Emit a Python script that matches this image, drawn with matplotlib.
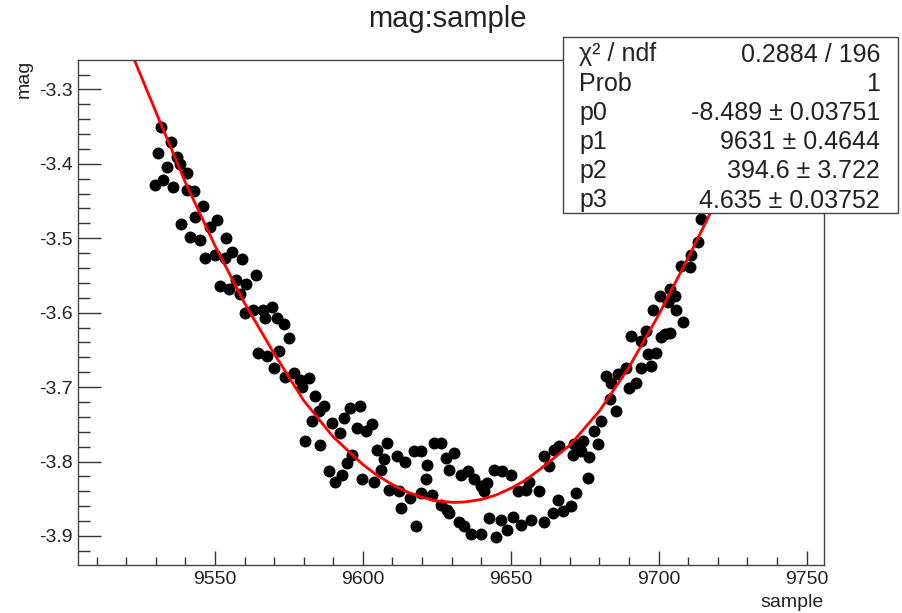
import matplotlib.pyplot as plt
from matplotlib.patches import Rectangle
from matplotlib.ticker import MultipleLocator, FormatStrFormatter

plt.rcParams['font.family'] = ['Liberation Sans', 'DejaVu Sans']
plt.rcParams['axes.unicode_minus'] = False

# points (sample, mag)
sample = [9531.6, 9535.0, 9530.8, 9537.3, 9533.7, 9538.2, 9540.4, 9529.7, 9532.5, 9535.9,
          9540.4, 9542.9, 9545.9, 9543.3, 9538.4, 9550.6, 9548.3, 9541.6, 9544.9, 9553.8,
          9546.7, 9550.0, 9553.4, 9555.7, 9559.1, 9551.7, 9554.9, 9557.2, 9560.5, 9558.5,
          9563.9, 9560.2, 9563.0, 9566.4, 9569.3, 9567.0, 9570.9, 9573.2, 9574.9, 9564.7,
          9567.6, 9571.8, 9569.8, 9573.8, 9576.6, 9578.9, 9581.7, 9579.4, 9583.9, 9586.8,
          9585.1, 9582.8, 9589.6, 9593.5, 9595.8, 9592.4, 9580.5, 9585.6, 9594.7, 9588.5,
          9590.7,
          9599.2, 9598.1, 9600.9, 9603.2, 9596.4, 9593.0, 9604.9, 9608.2, 9607.1, 9606.0,
          9599.8, 9603.7, 9611.6, 9614.4, 9617.3, 9619.5, 9624.0, 9626.3, 9621.8, 9621.2,
          9628.0, 9629.1, 9608.8, 9612.2, 9616.1, 9619.5, 9623.5, 9626.3, 9628.6, 9612.8,
          9617.8,
          9630.8, 9633.1, 9635.4, 9637.6, 9639.9, 9642.1, 9641.0, 9644.4, 9647.2, 9650.0,
          9652.3, 9655.1, 9656.2, 9659.6, 9661.3, 9629.1, 9632.5, 9634.2, 9636.5, 9639.9,
          9642.7, 9645.0, 9646.7, 9648.9, 9650.6, 9653.4, 9656.8, 9661.3,
          9690.7, 9694.1, 9696.4, 9694.1, 9689.0, 9686.2, 9682.2, 9683.9, 9690.1, 9692.4,
          9683.4, 9685.6, 9680.5, 9678.3, 9679.4, 9674.3, 9671.5, 9666.4, 9664.7, 9670.9,
          9673.8, 9676.6, 9663.0, 9676.1, 9672.1, 9665.9, 9670.4, 9667.6, 9664.2,
          9714.4, 9713.3, 9711.1, 9707.7, 9710.5, 9703.7, 9700.3, 9705.4, 9703.2, 9698.1,
          9706.0, 9708.2, 9695.8, 9702.0, 9703.7, 9700.9, 9699.2, 9697.5]
mag = [-3.350, -3.371, -3.386, -3.391, -3.404, -3.400, -3.412, -3.429, -3.422, -3.431,
       -3.435, -3.437, -3.457, -3.472, -3.481, -3.476, -3.485, -3.498, -3.503, -3.499,
       -3.526, -3.522, -3.526, -3.519, -3.528, -3.564, -3.568, -3.556, -3.561, -3.575,
       -3.550, -3.600, -3.597, -3.597, -3.593, -3.607, -3.607, -3.615, -3.634, -3.654,
       -3.658, -3.651, -3.674, -3.686, -3.681, -3.690, -3.688, -3.700, -3.712, -3.726,
       -3.732, -3.746, -3.748, -3.741, -3.728, -3.762, -3.772, -3.778, -3.802, -3.813,
       -3.827,
       -3.726, -3.755, -3.759, -3.750, -3.791, -3.818, -3.784, -3.775, -3.797, -3.811,
       -3.824, -3.827, -3.793, -3.800, -3.786, -3.786, -3.775, -3.775, -3.804, -3.824,
       -3.795, -3.811, -3.838, -3.840, -3.849, -3.842, -3.845, -3.858, -3.865, -3.863,
       -3.887,
       -3.788, -3.818, -3.813, -3.824, -3.833, -3.829, -3.840, -3.811, -3.813, -3.818,
       -3.840, -3.838, -3.827, -3.840, -3.793, -3.869, -3.881, -3.887, -3.898, -3.898,
       -3.876, -3.901, -3.878, -3.892, -3.874, -3.885, -3.878, -3.881,
       -3.631, -3.638, -3.656, -3.674, -3.674, -3.683, -3.685, -3.694, -3.701, -3.694,
       -3.716, -3.732, -3.746, -3.759, -3.777, -3.773, -3.777, -3.779, -3.784, -3.791,
       -3.786, -3.794, -3.806, -3.822, -3.842, -3.851, -3.860, -3.867, -3.869,
       -3.474, -3.505, -3.523, -3.537, -3.539, -3.568, -3.577, -3.577, -3.586, -3.597,
       -3.597, -3.613, -3.624, -3.629, -3.627, -3.633, -3.654, -3.672]

# fit curve
fit_x = [9522.7, 9530, 9540, 9550, 9560, 9570, 9580, 9590, 9600, 9605, 9610, 9615, 9620,
         9625, 9631, 9635, 9640, 9645, 9650, 9655, 9660, 9670, 9680, 9690, 9700, 9710,
         9718, 9725, 9732, 9738]
fit_y = [-3.260, -3.330, -3.425, -3.510, -3.587, -3.655, -3.718, -3.767, -3.804, -3.819,
         -3.831, -3.841, -3.848, -3.853, -3.855, -3.854, -3.851, -3.845, -3.836, -3.825,
         -3.810, -3.778, -3.732, -3.673, -3.603, -3.526, -3.462, -3.396, -3.325, -3.260]

stat_names = ['χ² / ndf', 'Prob', 'p0', 'p1', 'p2', 'p3']
stat_values = ['0.2884 / 196', '1', '-8.489 ± 0.03751', '9631 ± 0.4644',
               '394.6 ± 3.722', '4.635 ± 0.03752']

fig = plt.figure(figsize=(9.02, 6.13), dpi=100)
ax = fig.add_axes([0.0865, 0.0783, 0.827, 0.8238])

ax.plot(sample, mag, 'o', color='black', markersize=8.6, markeredgewidth=0)
ax.plot(fit_x, fit_y, color='red', lw=2.0)

ax.set_xlim(9503.7, 9755.9)
ax.set_ylim(-3.939, -3.2605)

ax.xaxis.set_major_locator(MultipleLocator(50))
ax.xaxis.set_minor_locator(MultipleLocator(10))
ax.xaxis.set_major_formatter(FormatStrFormatter('%d'))
ax.yaxis.set_major_locator(MultipleLocator(0.1))
ax.yaxis.set_minor_locator(MultipleLocator(0.02))
ax.yaxis.set_major_formatter(FormatStrFormatter('%.1f'))

for s in ax.spines.values():
    s.set_color('#444444')
    s.set_linewidth(1.0)

ax.tick_params(which='both', direction='in', top=False, right=False,
               color='#333333', width=1.0, labelsize=14, pad=4, labelcolor='#222222')
ax.tick_params(axis='y', which='major', length=16.5)
ax.tick_params(axis='y', which='minor', length=8.5)
ax.tick_params(axis='x', which='major', length=10)
ax.tick_params(axis='x', which='minor', length=6)

fig.text(0.4956, 0.956, 'mag:sample', ha='center', va='baseline', fontsize=21,
         color='#222222')
fig.text(824 / 902, 1 - 607 / 613, 'sample', ha='right', va='baseline', fontsize=14,
         color='#222222')
fig.text(33 / 902, 0.902, 'mag', rotation=90, ha='right', va='top', fontsize=14,
         color='#222222')

# stats box
box = Rectangle((0.6238, 0.652), 0.3721, 0.2881, transform=fig.transFigure,
                facecolor='white', edgecolor='#444444', lw=1.0, zorder=5)
fig.add_artist(box)
for i, (name, val) in enumerate(zip(stat_names, stat_values)):
    yb = 1 - (61.5 + 29.2 * i) / 613
    fig.text(579.3 / 902, yb, name, ha='left', va='baseline', fontsize=18,
             color='#222222', zorder=6)
    fig.text(880 / 902, yb, val, ha='right', va='baseline', fontsize=18,
             color='#222222', zorder=6)

fig.savefig('out.png', dpi=100)
